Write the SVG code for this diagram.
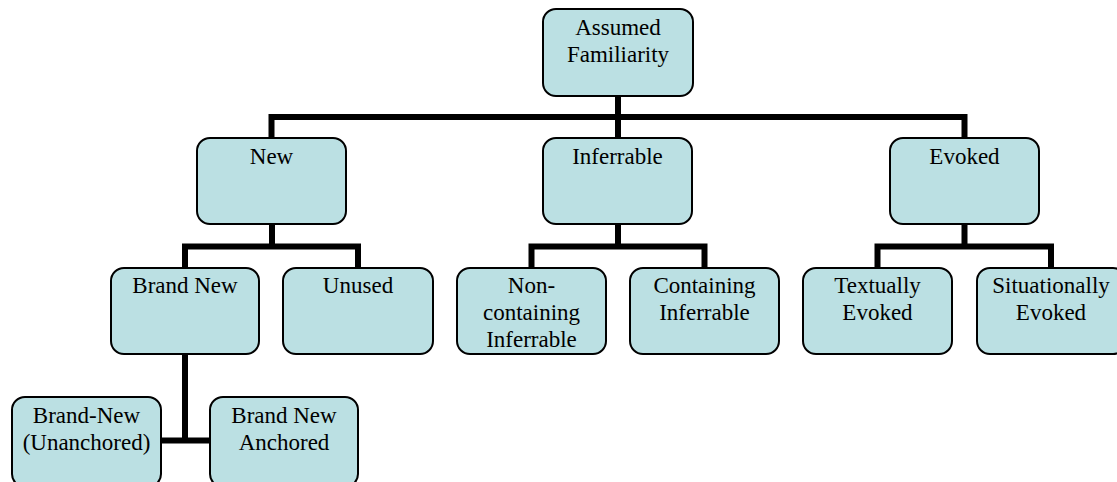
<svg xmlns="http://www.w3.org/2000/svg" width="1117" height="482" viewBox="0 0 1117 482">
<style>
.box{fill:#bbe0e3;stroke:#000;stroke-width:2}
.lbl{font-family:"Liberation Serif","Times New Roman",serif;font-size:23px;fill:#000;text-anchor:middle}
.con{fill:none;stroke:#000;stroke-width:6;stroke-linejoin:miter;stroke-linecap:butt}
</style>
<rect width="1117" height="482" fill="#fff"/>
<g id="connectors">
<path class="con" d="M271.5 138 V117 H964.5 V138 M618 96 V138"/>
<path class="con" d="M272 224 V246.5 M185 268 V246.5 H358 V268"/>
<path class="con" d="M618 224 V246.5 M531.5 268 V246.5 H704.5 V268"/>
<path class="con" d="M964.5 224 V246.5 M877.5 268 V246.5 H1051 V268"/>
<path class="con" d="M185 354 V440.5 M161 440.5 H210"/>
</g>
<g id="assumed-familiarity">
<rect class="box" x="543" y="9" width="150" height="87" rx="13"/>
<text class="lbl" x="618" y="35">Assumed</text>
<text class="lbl" x="618" y="62">Familiarity</text>
</g>
<g id="new">
<rect class="box" x="197" y="138" width="149" height="86" rx="13"/>
<text class="lbl" x="271.5" y="164">New</text>
</g>
<g id="inferrable">
<rect class="box" x="543" y="138" width="149" height="86" rx="13"/>
<text class="lbl" x="617.5" y="164">Inferrable</text>
</g>
<g id="evoked">
<rect class="box" x="890" y="138" width="149" height="86" rx="13"/>
<text class="lbl" x="964.5" y="164">Evoked</text>
</g>
<g id="brand-new">
<rect class="box" x="111" y="268" width="148" height="86" rx="13"/>
<text class="lbl" x="185" y="293">Brand New</text>
</g>
<g id="unused">
<rect class="box" x="283" y="268" width="150" height="86" rx="13"/>
<text class="lbl" x="358" y="293">Unused</text>
</g>
<g id="non-containing-inferrable">
<rect class="box" x="457" y="268" width="149" height="86" rx="13"/>
<text class="lbl" x="531.5" y="293">Non-</text>
<text class="lbl" x="531.5" y="320">containing</text>
<text class="lbl" x="531.5" y="347">Inferrable</text>
</g>
<g id="containing-inferrable">
<rect class="box" x="630" y="268" width="149" height="86" rx="13"/>
<text class="lbl" x="704.5" y="293">Containing</text>
<text class="lbl" x="704.5" y="320">Inferrable</text>
</g>
<g id="textually-evoked">
<rect class="box" x="803" y="268" width="149" height="86" rx="13"/>
<text class="lbl" x="877.5" y="293">Textually</text>
<text class="lbl" x="877.5" y="320">Evoked</text>
</g>
<g id="situationally-evoked">
<rect class="box" x="977" y="268" width="149" height="86" rx="13"/>
<text class="lbl" x="1051" y="293">Situationally</text>
<text class="lbl" x="1051" y="320">Evoked</text>
</g>
<g id="brand-new-unanchored">
<rect class="box" x="12" y="397" width="149" height="90" rx="13"/>
<text class="lbl" x="86.5" y="423">Brand-New</text>
<text class="lbl" x="86.5" y="450">(Unanchored)</text>
</g>
<g id="brand-new-anchored">
<rect class="box" x="210" y="397" width="148" height="90" rx="13"/>
<text class="lbl" x="284" y="423">Brand New</text>
<text class="lbl" x="284" y="450">Anchored</text>
</g>
</svg>
